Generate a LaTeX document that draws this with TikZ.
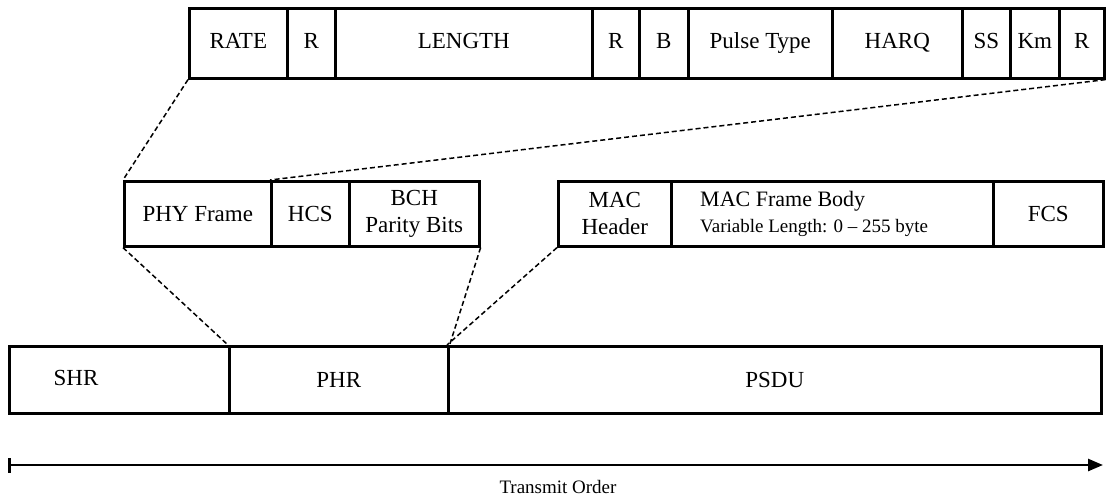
\documentclass[tikz,border=0pt]{standalone}
\usepackage{fontspec}
\setmainfont{Liberation Serif}
\usetikzlibrary{arrows.meta}

\begin{document}
\begin{tikzpicture}[x=1pt,y=-1pt]
\useasboundingbox (0,0) rectangle (1106,499);

\tikzset{
  lbl/.style={font=\fontsize{23}{27}\selectfont},
  fld/.style={draw, line width=2.6pt, anchor=north west, inner sep=0pt,
              align=center, lbl},
  oneline/.style={text height=16pt, text depth=5pt},
  toprow/.style={fld, oneline, minimum height=70pt},
  midrow/.style={fld, minimum height=65pt},
  botrow/.style={fld, minimum height=67pt},
  link/.style={line width=1.5pt, dash pattern=on 5pt off 3pt},
  order/.style={line width=2.6pt, {Bar[width=15pt]}-{Triangle[length=15pt,width=12pt]}},
}

% PHY header fields
\node[toprow, minimum width=98pt]  (rate)   at (188,7)  {RATE};
\node[toprow, minimum width=48pt]  (r1)     at (286,7)  {R};
\node[toprow, minimum width=257pt] (length) at (334,7)  {LENGTH};
\node[toprow, minimum width=47pt]  (r2)     at (591,7)  {R};
\node[toprow, minimum width=49pt]  (b)      at (638,7)  {B};
\node[toprow, minimum width=144pt] (pulse)  at (687,7)  {Pulse Type};
\node[toprow, minimum width=130pt] (harq)   at (831,7)  {HARQ};
\node[toprow, minimum width=48pt]  (ss)     at (961,7)  {SS};
\node[toprow, minimum width=49pt]  (km)     at (1009,7) {Km};
\node[toprow, minimum width=45pt]  (r3)     at (1058,7) {R};

% PHR contents
\node[midrow, minimum width=147pt] (phyf) at (123,180) {PHY Frame};
\node[midrow, minimum width=78pt]  (hcs)  at (270,180) {HCS};
\node[midrow, minimum width=130pt] (bch)  at (348,180) {BCH\\Parity Bits};

% PSDU contents
\node[midrow, minimum width=113pt] (mach) at (557,180) {MAC\\Header};
\node[midrow, minimum width=322pt] (body) at (670,180) {};
\node[anchor=base west, inner sep=0pt, font=\fontsize{22}{26}\selectfont]
  (bodytitle) at (700,206) {MAC Frame Body};
\node[anchor=base west, inner sep=0pt, font=\fontsize{19}{22}\selectfont]
  (bodysub) at (700,232) {Variable Length: 0 -- 255 byte};
\node[midrow, minimum width=110pt] (fcs)  at (992,180) {FCS};

% PPDU
\node[botrow, minimum width=220pt] (shr)  at (8,345)   {};
\node[lbl] (shrtxt) at (76,378) {SHR};
\node[botrow, minimum width=219pt] (phr)  at (228,345) {PHR};
\node[botrow, minimum width=653pt] (psdu) at (447,345) {PSDU};

% expansion lines
\draw[link] (rate.south west) -- (phyf.north west);
\draw[link] (r3.south east)   -- (hcs.north west);
\draw[link] (phyf.south west) -- (phr.north west);
\draw[link] (bch.south east)  -- (phr.north east);
\draw[link] (mach.south west) -- (psdu.north west);

% transmit order
\coordinate (tx0) at (8,465);
\coordinate (tx1) at (1103,465);
\draw[order] (tx0) -- (tx1);
\node[font=\fontsize{19}{22}\selectfont] (txlabel) at (558,487) {Transmit Order};
\end{tikzpicture}
\end{document}
